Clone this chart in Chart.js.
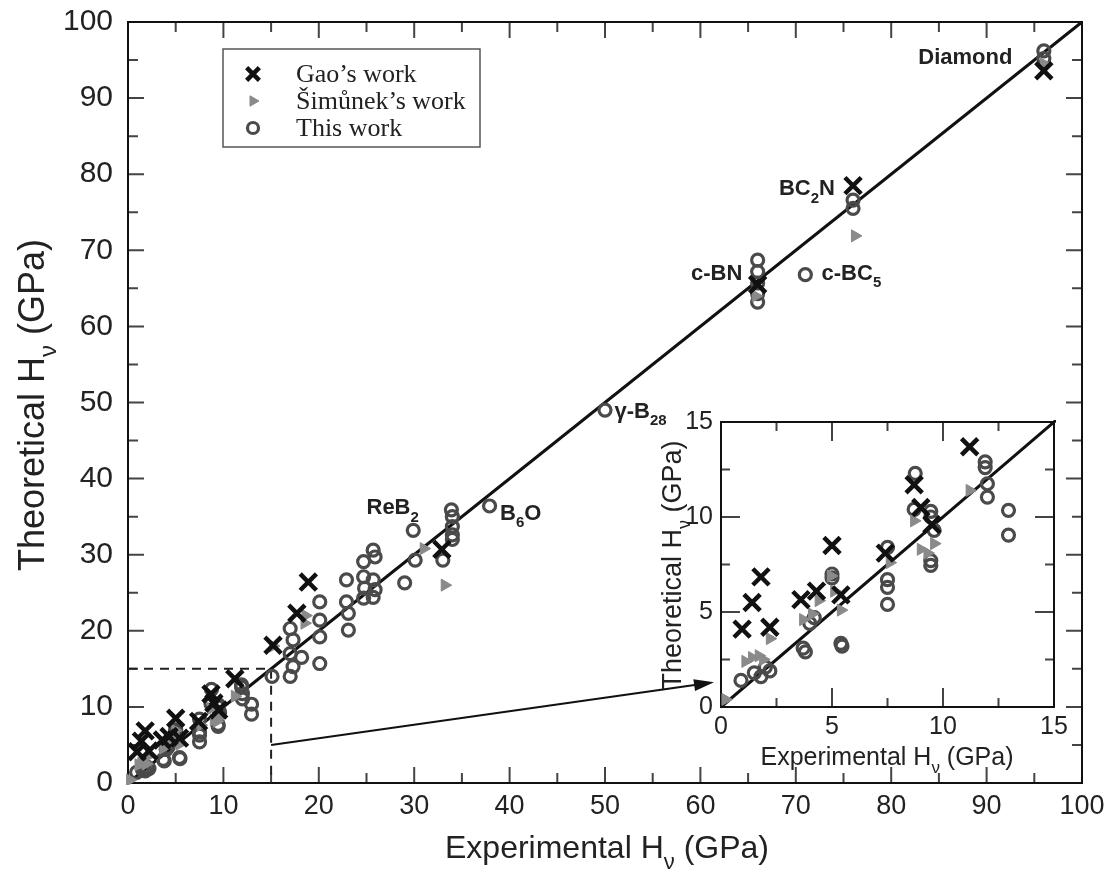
<!DOCTYPE html>
<html>
<head>
<meta charset="utf-8">
<script src="https://cdn.jsdelivr.net/npm/chart.js@4.4.1/dist/chart.umd.min.js"></script>
<style>
body { margin: 0; background: #fff; }
#wrap { position: relative; width: 1111px; height: 885px; }
#main { position: absolute; left: 0; top: 0; }
#inset { position: absolute; left: 640px; top: 400px; }
</style>
</head>
<body>
<div id="wrap">
  <canvas id="main" width="1111" height="885"></canvas>
  <canvas id="inset" width="440" height="400"></canvas>
</div>
<script>
/* Gao's work (black crosses) */
let gaoX = [0.95, 1.4, 1.8, 2.2, 3.6, 4.3, 5.0, 5.4, 7.4, 8.7, 9.0, 9.5, 11.2, 15.2, 17.7, 18.9, 32.9, 66.0, 76.0, 96.0]
let gaoY = [4.1, 5.5, 6.85, 4.2, 5.65, 6.1, 8.5, 5.9, 8.1, 11.7, 10.5, 9.6, 13.7, 18.1, 22.3, 26.4, 30.7, 65.5, 78.5, 93.6]

/* Simunek's work (grey triangles) */
let simX = [0.2, 1.1, 1.4, 1.7, 1.9, 2.2, 3.7, 4.1, 4.4, 5.1, 5.4, 4.95, 7.6, 8.7, 9.0, 9.3, 9.6, 11.2, 15.2, 18.5, 18.6, 31.0, 33.2, 65.8, 76.2, 96.0]
let simY = [0.4, 2.4, 2.6, 2.7, 2.5, 3.6, 4.6, 4.9, 5.6, 6.1, 5.1, 6.9, 7.6, 9.8, 8.3, 8.1, 8.6, 11.4, 18.0, 21.0, 22.0, 30.8, 26.0, 64.0, 71.9, 94.5]

/* This work (open circles) */
let workX = [0.9, 1.5, 1.8, 2.2, 2.0, 3.7, 3.8, 4.0, 4.2, 5.4, 5.45, 5.0, 5.0, 7.5, 7.5, 7.5, 7.5, 8.75, 8.7, 9.45, 9.45, 9.45, 9.45, 9.6,
    11.9, 11.9, 12.0, 12.0, 12.95, 12.95, 15.1, 17.0, 17.3, 17.0, 17.3, 17.0, 18.2, 20.1, 20.1, 20.1, 20.1, 22.9, 22.9, 23.1, 23.1,
    24.7, 25.7, 25.9, 24.7, 25.7, 25.9, 24.8, 24.7, 25.7, 29.0, 29.9, 30.1, 33.0, 33.9, 34.0, 34.0, 34.0, 34.0, 37.9, 50.0,
    66.0, 66.0, 66.0, 66.0, 66.0, 71.0, 76.0, 76.0, 96.0, 96.0]
let workY = [1.4, 1.8, 1.6, 1.9, 2.1, 3.1, 2.9, 4.4, 4.7, 3.35, 3.2, 7.0, 6.8, 8.4, 6.7, 6.3, 5.4, 12.3, 10.4, 10.3, 10.0, 7.7, 7.45, 9.3,
    12.9, 12.6, 11.75, 11.05, 10.35, 9.05, 14.0, 14.0, 15.3, 17.0, 18.8, 20.3, 16.5, 15.7, 19.2, 21.4, 23.8, 26.7, 23.8, 22.3, 20.1,
    29.1, 30.6, 29.7, 27.1, 26.7, 25.4, 25.6, 24.3, 24.4, 26.3, 33.2, 29.3, 29.3, 35.9, 35.0, 33.7, 32.6, 32.0, 36.4, 49.0,
    68.7, 67.2, 65.7, 64.3, 63.2, 66.8, 76.6, 75.5, 96.2, 95.2]

/* y = x guide and the zoomed box */
let lineX = [0, 100]
let lineY = [0, 100]
let boxX = [0, 15, 15]
let boxY = [15, 15, 0]

/* tick labels */
let mainTicks = [0, 10, 20, 30, 40, 50, 60, 70, 80, 90, 100]
let insetTicks = [0, 5, 10, 15]

/* material names: text pieces (odd pieces are subscripts) and where they sit */
let names = [['Diamond'], ['BC', '2', 'N'], ['c-BN'], ['c-BC', '5'], ['γ-B', '28'], ['ReB', '2'], ['B', '6', 'O']]
let nameX = [92.7, 74.1, 64.4, 72.7, 51.0, 25.0, 39.0]
let nameY = [95.3, 78.0, 66.9, 66.9, 48.8, 36.1, 35.4]
let nameAlign = ['right', 'right', 'right', 'left', 'left', 'left', 'left']

let legendNames = ['Gao’s work', 'Šimůnek’s work', 'This work']

let family = '"Liberation Sans", Arial, Helvetica, sans-serif'

function toPoints(xs, ys, maxV) {
    let pts = xs.map((x, i) => ({ x: x, y: ys[i] }))
    if (maxV) pts = pts.filter(p => p.x <= maxV && p.y <= maxV)   // inset only keeps what is inside its range
    return pts
}

let markerStyles = [
    { pointStyle: 'crossRot', pointRadius: 11.5, pointBorderWidth: 4.5, pointBorderColor: '#111', pointBackgroundColor: '#111', pointRotation: 0 },
    { pointStyle: 'triangle', pointRadius: 7, pointBorderWidth: 1, pointBorderColor: '#8a8a8a', pointBackgroundColor: '#8a8a8a', pointRotation: 90 },
    { pointStyle: 'circle', pointRadius: 6, pointBorderWidth: 3.2, pointBorderColor: '#4a4a4a', pointBackgroundColor: 'rgba(0,0,0,0)', pointRotation: 0 }
]

function makeDatasets(withBox, maxV) {
    let sets = [
        Object.assign({ label: legendNames[0], data: toPoints(gaoX, gaoY, maxV) }, markerStyles[0]),
        Object.assign({ label: legendNames[1], data: toPoints(simX, simY, maxV) }, markerStyles[1]),
        Object.assign({ label: legendNames[2], data: toPoints(workX, workY, maxV) }, markerStyles[2]),
        { label: 'y=x', data: toPoints(lineX, lineY), showLine: true, pointRadius: 0, borderColor: '#111', borderWidth: 3 }
    ]
    if (withBox) {
        sets.push({ label: 'box', data: toPoints(boxX, boxY), showLine: true, pointRadius: 0, borderColor: '#222', borderWidth: 2, borderDash: [9, 7] })
    }
    sets.forEach(s => { s.clip = 2 })
    return sets
}

// text with subscripts, pieces at odd index are lowered and smaller
function drawRich(ctx, parts, x, y, size, bold, align, color) {
    let w = bold ? 'bold ' : ''
    let font = w + size + 'px ' + family
    let subFont = w + Math.round(size * 0.68) + 'px ' + family
    let widths = parts.map((p, i) => { ctx.font = i % 2 ? subFont : font; return ctx.measureText(p).width })
    let total = widths.reduce((a, b) => a + b, 0)
    let cx = align == 'right' ? x - total : align == 'center' ? x - total / 2 : x
    ctx.fillStyle = color || '#222'
    ctx.textAlign = 'left'
    ctx.textBaseline = 'middle'
    parts.forEach((p, i) => {
        ctx.font = i % 2 ? subFont : font
        ctx.fillText(p, cx, i % 2 ? y + size * 0.42 : y)
        cx += widths[i]
    })
}

// box around the plot with inward ticks on all four sides
function drawFrame(chart, step, major, longLen, shortLen) {
    let ctx = chart.ctx, a = chart.chartArea, xs = chart.scales.x, ys = chart.scales.y
    ctx.save()
    ctx.strokeStyle = '#444'
    ctx.lineWidth = 2
    ctx.beginPath()
    for (let v = xs.min; v <= xs.max + 1e-9; v += step) {
        let len = Math.abs(v % major) < 1e-6 ? longLen : shortLen
        let px = xs.getPixelForValue(v)
        ctx.moveTo(px, a.bottom); ctx.lineTo(px, a.bottom - len)
        ctx.moveTo(px, a.top); ctx.lineTo(px, a.top + len)
    }
    for (let v = ys.min; v <= ys.max + 1e-9; v += step) {
        let len = Math.abs(v % major) < 1e-6 ? longLen : shortLen
        let py = ys.getPixelForValue(v)
        ctx.moveTo(a.left, py); ctx.lineTo(a.left + len, py)
        ctx.moveTo(a.right, py); ctx.lineTo(a.right - len, py)
    }
    ctx.stroke()
    ctx.strokeStyle = '#111'
    ctx.strokeRect(a.left, a.top, a.right - a.left, a.bottom - a.top)
    ctx.restore()
}

// size is forced and the label overhang padding dropped, so the plot box lands where the layout padding says
function axisOptions(ticks, size, padding, horizontal, thickness) {
    return {
        type: 'linear',
        min: ticks[0],
        max: ticks[ticks.length - 1],
        grid: { display: false, drawTicks: false },
        border: { display: false },
        afterBuildTicks: s => { s.ticks = ticks.map(v => ({ value: v })) },
        ticks: { color: '#222', padding: padding, maxRotation: 0, autoSkip: false, font: { family: family, size: size } },
        afterFit: s => {
            if (horizontal) { s.height = thickness; s.paddingLeft = 0; s.paddingRight = 0 }
            else { s.width = thickness; s.paddingTop = 0; s.paddingBottom = 0 }
        }
    }
}

/* inset chart (0-15 GPa) */
let insetChart = new Chart(document.querySelector('#inset').getContext('2d'), {
    type: 'scatter',
    data: { datasets: makeDatasets(false, 15) },
    options: {
        responsive: false,
        animation: false,
        events: [],
        layout: { padding: { top: 22, right: 26, left: 0, bottom: 0 } },
        plugins: { legend: { display: false }, tooltip: { enabled: false } },
        scales: {
            x: axisOptions(insetTicks, 25, 5, true, 93),
            y: axisOptions(insetTicks, 25, 8, false, 81)
        }
    },
    plugins: [{
        id: 'insetDecor',
        beforeDatasetsDraw(chart) { drawFrame(chart, 2.5, 5, 19, 9) },
        afterDraw(chart) {
            let ctx = chart.ctx
            drawRich(ctx, ['Experimental H', 'ν', ' (GPa)'], 247, 358, 25, false, 'center')
            ctx.save()
            ctx.translate(34, 165)
            ctx.rotate(-Math.PI / 2)
            drawRich(ctx, ['Theoretical H', 'ν', ' (GPa)'], 0, 0, 27, false, 'center')
            ctx.restore()
        }
    }]
})

/* main chart */
let mainChart = new Chart(document.querySelector('#main').getContext('2d'), {
    type: 'scatter',
    data: { datasets: makeDatasets(true) },
    options: {
        responsive: false,
        animation: false,
        events: [],
        layout: { padding: { top: 22, right: 29, left: 0, bottom: 0 } },
        plugins: { legend: { display: false }, tooltip: { enabled: false } },
        scales: {
            x: axisOptions(mainTicks, 27, 7, true, 102),
            y: axisOptions(mainTicks, 30, 15, false, 128)
        }
    },
    plugins: [{
        id: 'mainDecor',
        beforeDatasetsDraw(chart) { drawFrame(chart, 5, 10, 16, 10) },
        afterDraw(chart) {
            let ctx = chart.ctx, xs = chart.scales.x, ys = chart.scales.y

            // material names
            names.forEach((parts, i) => {
                drawRich(ctx, parts, xs.getPixelForValue(nameX[i]), ys.getPixelForValue(nameY[i]), 22, true, nameAlign[i], '#222')
            })

            // arrow from the dashed box to the inset
            let ia = insetChart.chartArea
            let x0 = xs.getPixelForValue(15), y0 = ys.getPixelForValue(5)
            let x1 = 640 + ia.left - 7, y1 = 400 + insetChart.scales.y.getPixelForValue(1.3)
            let ang = Math.atan2(y1 - y0, x1 - x0)
            ctx.save()
            ctx.strokeStyle = '#111'
            ctx.fillStyle = '#111'
            ctx.lineWidth = 2
            ctx.beginPath()
            ctx.moveTo(x0, y0)
            ctx.lineTo(x1 - 16 * Math.cos(ang), y1 - 16 * Math.sin(ang))
            ctx.stroke()
            ctx.beginPath()
            ctx.moveTo(x1, y1)
            ctx.lineTo(x1 - 20 * Math.cos(ang) + 6 * Math.sin(ang), y1 - 20 * Math.sin(ang) - 6 * Math.cos(ang))
            ctx.lineTo(x1 - 20 * Math.cos(ang) - 6 * Math.sin(ang), y1 - 20 * Math.sin(ang) + 6 * Math.cos(ang))
            ctx.closePath()
            ctx.fill()
            ctx.restore()

            // legend box
            ctx.save()
            ctx.strokeStyle = '#555'
            ctx.lineWidth = 1.5
            ctx.strokeRect(223, 49, 257, 98)
            let rowY = [74, 101, 128]
            let legendSizes = [9, 6, 5.5]
            markerStyles.forEach((m, i) => {
                ctx.strokeStyle = m.pointBorderColor
                ctx.fillStyle = m.pointBackgroundColor
                ctx.lineWidth = m.pointBorderWidth
                Chart.helpers.drawPoint(ctx, { pointStyle: m.pointStyle, radius: legendSizes[i], rotation: m.pointRotation, borderWidth: m.pointBorderWidth }, 253, rowY[i])
                ctx.fillStyle = '#222'
                ctx.font = '26px "Liberation Serif", "Times New Roman", serif'
                ctx.textAlign = 'left'
                ctx.textBaseline = 'alphabetic'
                ctx.fillText(legendNames[i], 296, rowY[i] + 8)
            })
            ctx.restore()

            // axis titles
            drawRich(ctx, ['Experimental H', 'ν', ' (GPa)'], 607, 849, 32, false, 'center')
            ctx.save()
            ctx.translate(34, 405)
            ctx.rotate(-Math.PI / 2)
            drawRich(ctx, ['Theoretical H', 'ν', ' (GPa)'], 0, 0, 36, false, 'center')
            ctx.restore()
        }
    }]
})
</script>
</body>
</html>
